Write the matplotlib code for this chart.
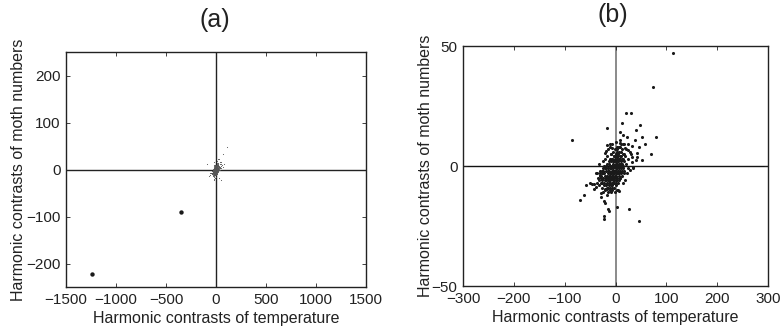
import matplotlib
matplotlib.use("Agg")
import matplotlib.pyplot as plt

plt.rcParams['font.family'] = ['Liberation Sans', 'DejaVu Sans']

# harmonic contrasts (temperature, moth numbers)
core_x = [-30, -28, -25, -24, -22, -20, -19, -18, -17, -16, -15, -14, -13, -12, -12, -11, -10, -10, -9, -9,
          -8, -8, -7, -7, -6, -6, -5, -5, -4, -4, -3, -3, -2, -2, -1, -1, 0, 0, 0, 1,
          1, 2, 2, 3, 3, 4, 4, 5, 5, 6, 6, 7, 7, 8, 8, 9, 10, 10, 11, 12,
          13, 14, 15, 16, 18, 20, -35, -33, -27, -23, -21, -26, -14, -11, -6, -3, 1, 4, 9, 12,
          17, 22, 24, -38, -32, -20, -16, -9, -4, -1, 3, 6, -13, -17, -24, 2, -1, -8, -16, 5,
          14, 19, 25, 13, 9, -2, -5, -10, -15, -19, -29, -12, 0, 2, 4, 7, 11, 15, -7, -3,
          1, -11, -6, -2, 0, 3, 5, 8, -4, -8, -1, 1, 2, -2, 6, -5, -6, 0, 2, 10,
          17, 20, -14, -10]
core_y = [-2, -4, -1, -5, -3, -6, -2, 0, -4, -7, -1, -3, -5, 1, -2, -6, -4, 0, -1, -8,
          -3, 2, -5, 0, -2, 3, -4, 1, -6, -1, 2, -3, 0, -5, 3, -2, 1, -4, 5, -1,
          2, -3, 4, 0, -6, 2, -2, 5, 0, -4, 3, 1, 6, -2, 4, 0, 2, 6, -3, 3,
          1, 5, -1, 2, 4, 1, -5, -8, -9, -8, -10, -6, -9, -10, -8, -9, -8, -7, -5, -4,
          -2, -3, 3, -3, 1, 3, 4, 5, 6, 7, 8, 8, 2, 1, 2, -10, -11, -11, -12, -10,
          -7, -6, -1, 7, 8, 4, -7, -3, -5, -8, -7, -6, -7, -1, 5, -1, 4, 3, 3, 0,
          5, 3, -4, -2, 2, 3, -3, 1, -3, -1, 0, -3, 1, 2, 0, -2, 9, 10, 7, 9,
          9, 7, 7, 8]

# more points from the dense middle of the cloud
mid_x = [-33, -30, -27, -25, -22, -20, -18, -15, -13, -11, -9, -7, -5, -3, -1, 1, 3, 5, 7, 9,
         11, 13, -28, -24, -21, -17, -14, -10, -6, -2, 2, 6, 10, 14, -36, -31, -26, -19, -12, -8,
         -4, 0, 4, 8, 12, 16, -22, -18, -13, -9, -5, -1, 3, 7, -15, -11, -7, -3, 1, 5]
mid_y = [-6, -3, -7, -2, -7, -4, -6, -2, -8, -1, -5, -7, -3, -6, -4, -6, -3, -2, -3, 3,
         1, -2, -5, -3, -1, -9, -6, -7, -10, -7, -5, -6, -1, 0, -7, -4, -2, -5, -4, 0,
         2, -2, 0, -5, 0, -3, 0, -1, -7, -3, 0, 4, 6, 3, -11, -3, -9, 4, 7, 2]

outer_x = [114, 74, 20, 30, 12, -16, 40, 49, -86, 79, 8, 15, 23, 38, 53, 59, 46, 69, 52, 34,
           29, 35, -70, -61, -58, -51, -46, -42, -31, -26, -36, -42, -38, -29, -25, -28, -21, -17, -10, 7,
           -23, -20, -15, -13, -23, -22, 3, 27, 46, -16, -11, -21, -18, -7, 0, -8, 2, 9, 9, 15,
           24, 7, 18, 24, 33, 28, 31, 43, 42, 32, 16, 40, 33]
outer_y = [47, 33, 22, 22, 18, 16, 15, 17, 11, 12, 14, 13, 12, 11, 12, 9, 8, 5, 2.5, -0.3,
           -1.7, -1, -14, -12, -8, -7, -7.6, -7.5, -3.7, -3, -3, -9.7, -8.6, -11.4, -11, -12.8, -9.6, -9.7, -9.3, -10.3,
           -14.7, -15.6, -18, -18.6, -20.8, -22.2, -17, -18, -22.8, 8.7, 9, 5.4, 6.4, 7.5, 7.2, 5, 3.8, 11, 9.7, 9.2,
           9.3, 8, 7.5, 6.8, 8.5, 6, 5, 5.3, 3.6, 3.9, 5, 2.5, 1.7]

# the two large contrasts only visible in panel (a)
far_x = [-1240, -355]
far_y = [-223, -90]

all_x = core_x + mid_x + outer_x
all_y = core_y + mid_y + outer_y

fig = plt.figure(figsize=(7.8, 3.33), dpi=100)
ax1 = fig.add_axes([66 / 780, 1 - 287 / 333, 300 / 780, 235 / 333])
ax2 = fig.add_axes([463 / 780, 1 - 286 / 333, 305 / 780, 240 / 333])

# panel (a)
ax1.axhline(0, color='#222222', lw=1.0, zorder=1)
ax1.axvline(0, color='#222222', lw=1.0, zorder=1)
ax1.scatter(all_x, all_y, s=0.6, color='#555555', linewidths=0, zorder=2)
ax1.scatter(far_x, far_y, s=10, color='#1a1a1a', linewidths=0, zorder=3)
ax1.set_xlim(-1500, 1500)
ax1.set_ylim(-250, 250)
ax1.set_xticks([-1500, -1000, -500, 0, 500, 1000, 1500])
ax1.set_yticks([-200, -100, 0, 100, 200])

# panel (b)
ax2.axhline(0, color='#111111', lw=1.0, zorder=1)
ax2.axvline(0, color='#777777', lw=1.2, zorder=1)
ax2.scatter(all_x, all_y, s=5, color='#1a1a1a', linewidths=0, zorder=2)
ax2.set_xlim(-300, 300)
ax2.set_ylim(-50, 50)
ax2.set_xticks([-300, -200, -100, 0, 100, 200, 300])
ax2.set_yticks([-50, 0, 50])

fig.text(215 / 780, 1 - 20 / 333, '(a)', fontsize=18, ha='center', va='center', color='#222222')
fig.text(613 / 780, 1 - 15 / 333, '(b)', fontsize=18, ha='center', va='center', color='#222222')

for ax, lp in ((ax1, 0), (ax2, -1)):
    ax.set_xlabel('Harmonic contrasts of temperature', fontsize=11.5, labelpad=3, color='#222222')
    ax.set_ylabel('Harmonic contrasts of moth numbers', fontsize=11.5, labelpad=lp, color='#222222')
    ax.tick_params(direction='in', top=True, right=True, length=3, width=0.6,
                   labelsize=11, colors='#222222', pad=4)
    for sp in ax.spines.values():
        sp.set_linewidth(1.0)
        sp.set_color('#222222')

fig.savefig('out.png', dpi=100)
